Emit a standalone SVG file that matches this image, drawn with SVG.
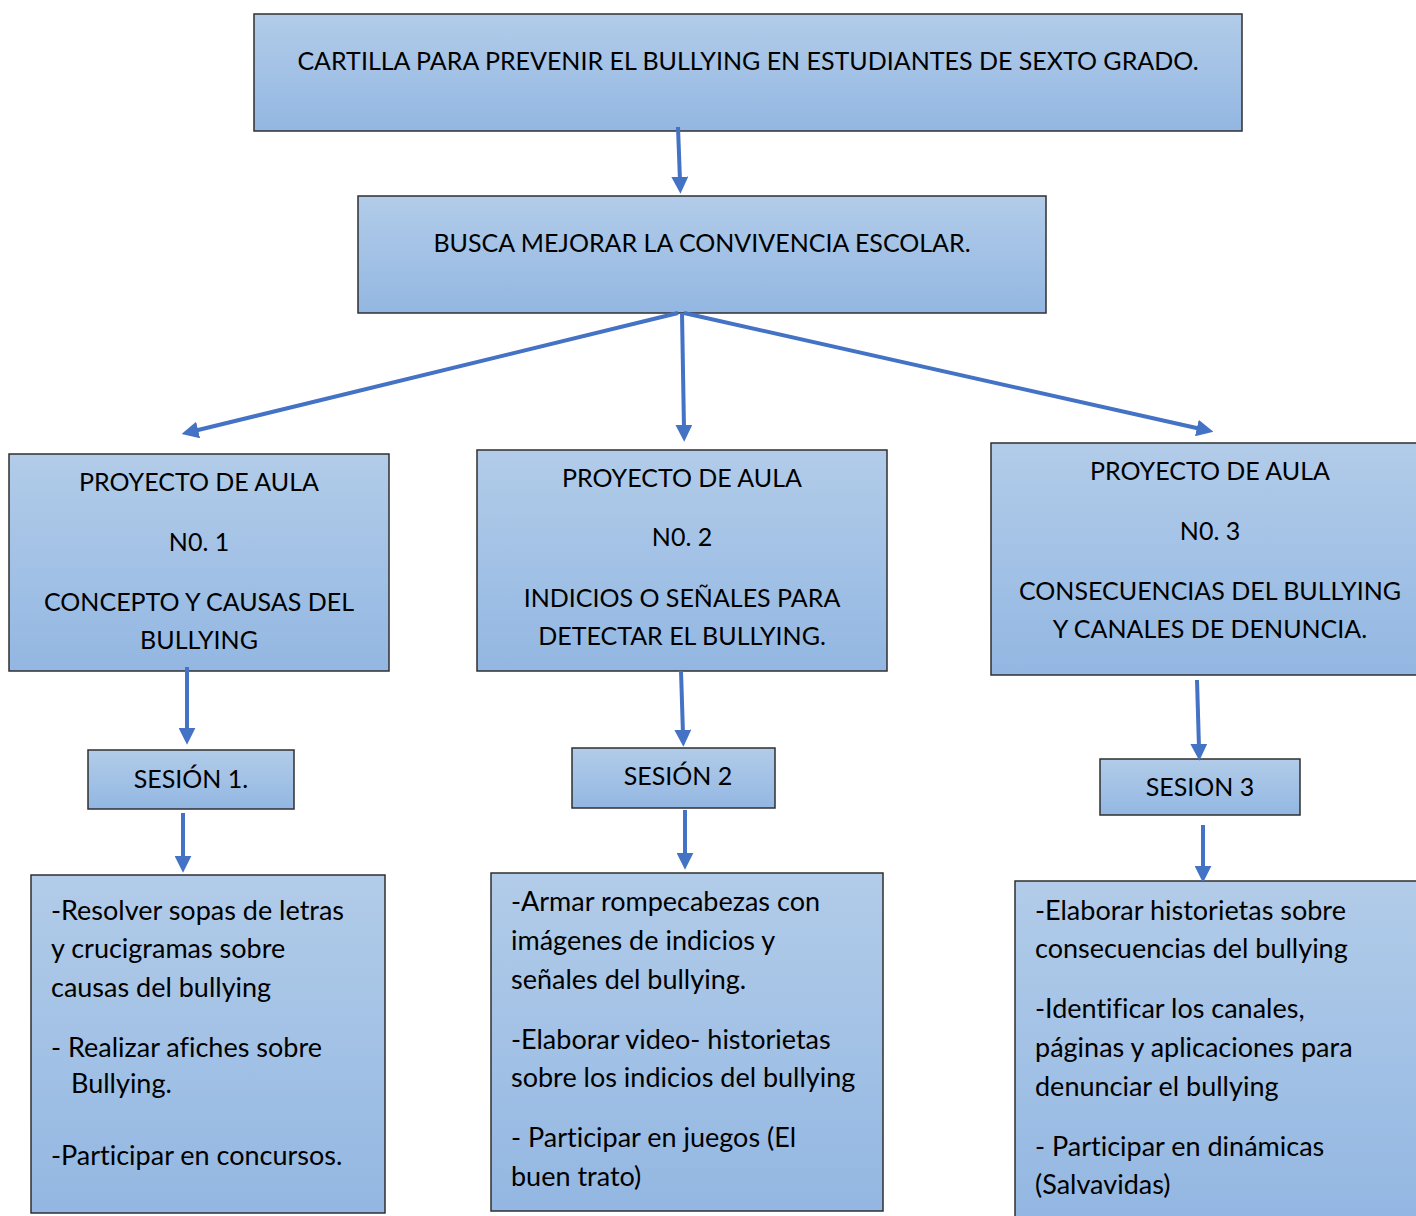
<svg xmlns="http://www.w3.org/2000/svg" width="1416" height="1216" viewBox="0 0 1416 1216">
<defs>
<linearGradient id="g" x1="0" y1="0" x2="0" y2="1">
<stop offset="0" stop-color="#b2cce9"/>
<stop offset="1" stop-color="#93b7e2"/>
</linearGradient>
<marker id="ah" viewBox="0 0 16 16" markerWidth="17" markerHeight="17" refX="4" refY="8" orient="auto" markerUnits="userSpaceOnUse">
<path d="M0,0 L16,8 L0,16 z" fill="#4472c4"/>
</marker>
<style>
.box{fill:url(#g);stroke:#2f2f2f;stroke-width:1.5}
.t{font-family:Lato,"Liberation Sans",Arial,sans-serif;font-size:25px;fill:#000;font-variant-ligatures:none}
.b{font-size:27px}
.c{text-anchor:middle}
.con line{stroke:#4472c4;stroke-width:4;marker-end:url(#ah)}
</style>
</defs>
<g id="n-title"><rect class="box" x="254" y="14" width="988" height="117"/><text class="t c" x="748" y="70">CARTILLA PARA PREVENIR EL BULLYING EN ESTUDIANTES DE SEXTO GRADO.</text></g>
<g id="n-busca"><rect class="box" x="358" y="196" width="688" height="117"/><text class="t c" x="702" y="252">BUSCA MEJORAR LA CONVIVENCIA ESCOLAR.</text></g>
<g id="n-p1"><rect class="box" x="9" y="454" width="380" height="217"/>
<text class="t c" x="199" y="491">PROYECTO DE AULA</text><text class="t c" x="199" y="551">N0. 1</text><text class="t c" x="199" y="611">CONCEPTO Y CAUSAS DEL</text><text class="t c" x="199" y="649">BULLYING</text></g>
<g id="n-p2"><rect class="box" x="477" y="450" width="410" height="221"/>
<text class="t c" x="682" y="487">PROYECTO DE AULA</text><text class="t c" x="682" y="546">N0. 2</text><text class="t c" x="682" y="607">INDICIOS O SEÑALES PARA</text><text class="t c" x="682" y="645">DETECTAR EL BULLYING.</text></g>
<g id="n-p3"><rect class="box" x="991" y="443" width="430" height="232"/>
<text class="t c" x="1210" y="480">PROYECTO DE AULA</text><text class="t c" x="1210" y="540">N0. 3</text><text class="t c" x="1210" y="600">CONSECUENCIAS DEL BULLYING</text><text class="t c" x="1210" y="638">Y CANALES DE DENUNCIA.</text></g>
<g id="n-s1"><rect class="box" x="88" y="750" width="206" height="59"/><text class="t c" x="191" y="788">SESIÓN 1.</text></g>
<g id="n-s2"><rect class="box" x="572" y="748" width="203" height="60"/><text class="t c" x="678" y="785">SESIÓN 2</text></g>
<g id="n-s3"><rect class="box" x="1100" y="759" width="200" height="56"/><text class="t c" x="1200" y="796">SESION 3</text></g>
<g id="n-a1"><rect class="box" x="31" y="875" width="354" height="338"/>
<text class="t b" x="51" y="920">-Resolver sopas de letras</text><text class="t b" x="51" y="958">y crucigramas sobre</text><text class="t b" x="51" y="997">causas del bullying</text><text class="t b" x="51" y="1057">- Realizar afiches sobre</text><text class="t b" x="71" y="1093">Bullying.</text><text class="t b" x="51" y="1165">-Participar en concursos.</text></g>
<g id="n-a2"><rect class="box" x="491" y="873" width="392" height="338"/>
<text class="t b" x="511" y="911">-Armar rompecabezas con</text><text class="t b" x="511" y="950">imágenes de indicios y</text><text class="t b" x="511" y="989">señales del bullying.</text><text class="t b" x="511" y="1049">-Elaborar video- historietas</text><text class="t b" x="511" y="1087">sobre los indicios del bullying</text><text class="t b" x="511" y="1147">- Participar en juegos (El</text><text class="t b" x="511" y="1186">buen trato)</text></g>
<g id="n-a3"><rect class="box" x="1015" y="881" width="406" height="340"/>
<text class="t b" x="1035" y="920">-Elaborar historietas sobre</text><text class="t b" x="1035" y="958">consecuencias del bullying</text><text class="t b" x="1035" y="1018">-Identificar los canales,</text><text class="t b" x="1035" y="1057">páginas y aplicaciones para</text><text class="t b" x="1035" y="1096">denunciar el bullying</text><text class="t b" x="1035" y="1156">- Participar en dinámicas</text><text class="t b" x="1035" y="1194">(Salvavidas)</text></g>
<g id="connectors" class="con">
<line x1="678" y1="127" x2="680" y2="181"/>
<line x1="678" y1="313" x2="194" y2="431"/>
<line x1="682" y1="313" x2="684" y2="429"/>
<line x1="684" y1="313" x2="1201" y2="429"/>
<line x1="187" y1="667" x2="187" y2="732"/>
<line x1="183" y1="813" x2="183" y2="860"/>
<line x1="681" y1="671" x2="683" y2="734"/>
<line x1="685" y1="810" x2="685" y2="857"/>
<line x1="1197" y1="680" x2="1199" y2="748"/>
<line x1="1203" y1="825" x2="1203" y2="870"/>
</g>
</svg>
